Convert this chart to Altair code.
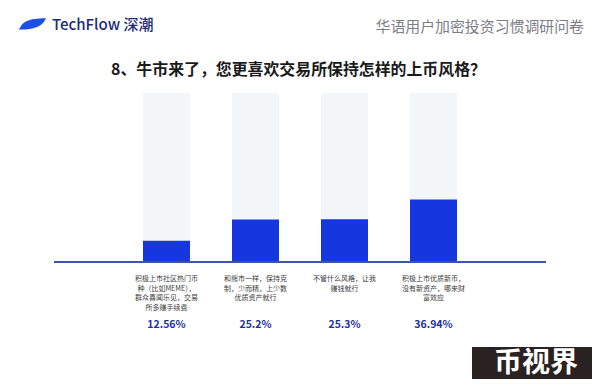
import altair as alt
import pandas as pd

# ---- data ----
categories = ["c1", "c2", "c3", "c4"]
values = [12.56, 25.2, 25.3, 36.94]
pct_labels = ["12.56%", "25.2%", "25.3%", "36.94%"]
cat_labels = [
    "积极上市社区热门币\n种（比如MEME），\n群众喜闻乐见，交易\n所多赚手续费",
    "和熊市一样，保持克\n制，少而精，上少数\n优质资产就行",
    "不管什么风格，让我\n赚钱就行",
    "积极上市优质新币，\n没有新资产，哪来财\n富效应",
]
title_text = "8、牛市来了，您更喜欢交易所保持怎样的上币风格？"
brand_text = "TechFlow 深潮"
header_text = "华语用户加密投资习惯调研问卷"
stamp_text = "币视界"

FONT = "Noto Sans CJK SC"
W, H = 492, 169

df = pd.DataFrame({
    "cat": categories,
    "value": values,
    "full": [100] * len(categories),
    "pct": pct_labels,
    "label": cat_labels,
})

xenc = alt.X("cat:N", sort=None, axis=None,
             scale=alt.Scale(paddingInner=0.472, paddingOuter=1.0))
yscale = alt.Scale(domain=[0, 100])

base = alt.Chart(df)

bg = base.mark_bar(color="#f4f5f8").encode(
    x=xenc, y=alt.Y("full:Q", scale=yscale, axis=None))
bars = base.mark_bar(color="#1636e0").encode(
    x=xenc, y=alt.Y("value:Q", scale=yscale, axis=None))

baseline = base.mark_rule(color="#3b55ad", strokeWidth=1.5).encode(
    x=alt.value(0), x2=alt.value(W), y=alt.value(H))

labels = base.mark_text(font=FONT, fontSize=7, color="#3a3a3a",
                        lineBreak="\n", lineHeight=9.7, baseline="middle",
                        align="center").encode(
    x=xenc, y=alt.value(186), text="label:N")

pcts = base.mark_text(font=FONT, fontSize=10.5, fontWeight="bold",
                      color="#1d319e", baseline="middle").encode(
    x=xenc, y=alt.value(232), text="pct:N")

one = pd.DataFrame({"t": [0]})
deco_base = alt.Chart(one)

title = deco_base.mark_text(font=FONT, fontSize=15.9, fontWeight="bold",
                            color="#1a1a1a", baseline="middle",
                            align="center", text=title_text).encode(
    x=alt.value(244.5), y=alt.value(-23))

leaf = deco_base.mark_point(
    shape="M -1 0.42 C -0.75 -0.15 -0.35 -0.42 1 -0.42 C 0.75 0.1 0.35 0.42 -1 0.42 Z",
    size=730, filled=True, color="#1d4fe6", opacity=1).encode(
    x=alt.value(-21.5), y=alt.value(-69))

brand = deco_base.mark_text(font=FONT, fontSize=15, fontWeight=500,
                            color="#1c2c78", align="left", baseline="middle",
                            text=brand_text).encode(
    x=alt.value(-2), y=alt.value(-68.5))

header = deco_base.mark_text(font=FONT, fontSize=14.9, color="#7d7d85",
                             align="right", baseline="middle",
                             text=header_text).encode(
    x=alt.value(530), y=alt.value(-65.5))

stamp_box = deco_base.mark_rect(color="#2a2222").encode(
    x=alt.value(418), x2=alt.value(546), y=alt.value(254), y2=alt.value(290))
stamp = deco_base.mark_text(font=FONT, fontSize=28, fontWeight="bold",
                            color="#ffffff", align="center", baseline="middle",
                            text=stamp_text).encode(
    x=alt.value(482), y=alt.value(271))

chart = alt.layer(
    bg, bars, baseline, labels, pcts, title, leaf, brand, header,
    stamp_box, stamp
).properties(
    width=W, height=H,
    autosize=alt.AutoSizeParams(type="none"),
    padding={"left": 46, "top": 85, "right": 46, "bottom": 117},
    background="#ffffff",
).configure_view(stroke=None)

chart.save("out.html", embed_options={"renderer": "svg", "actions": False})
